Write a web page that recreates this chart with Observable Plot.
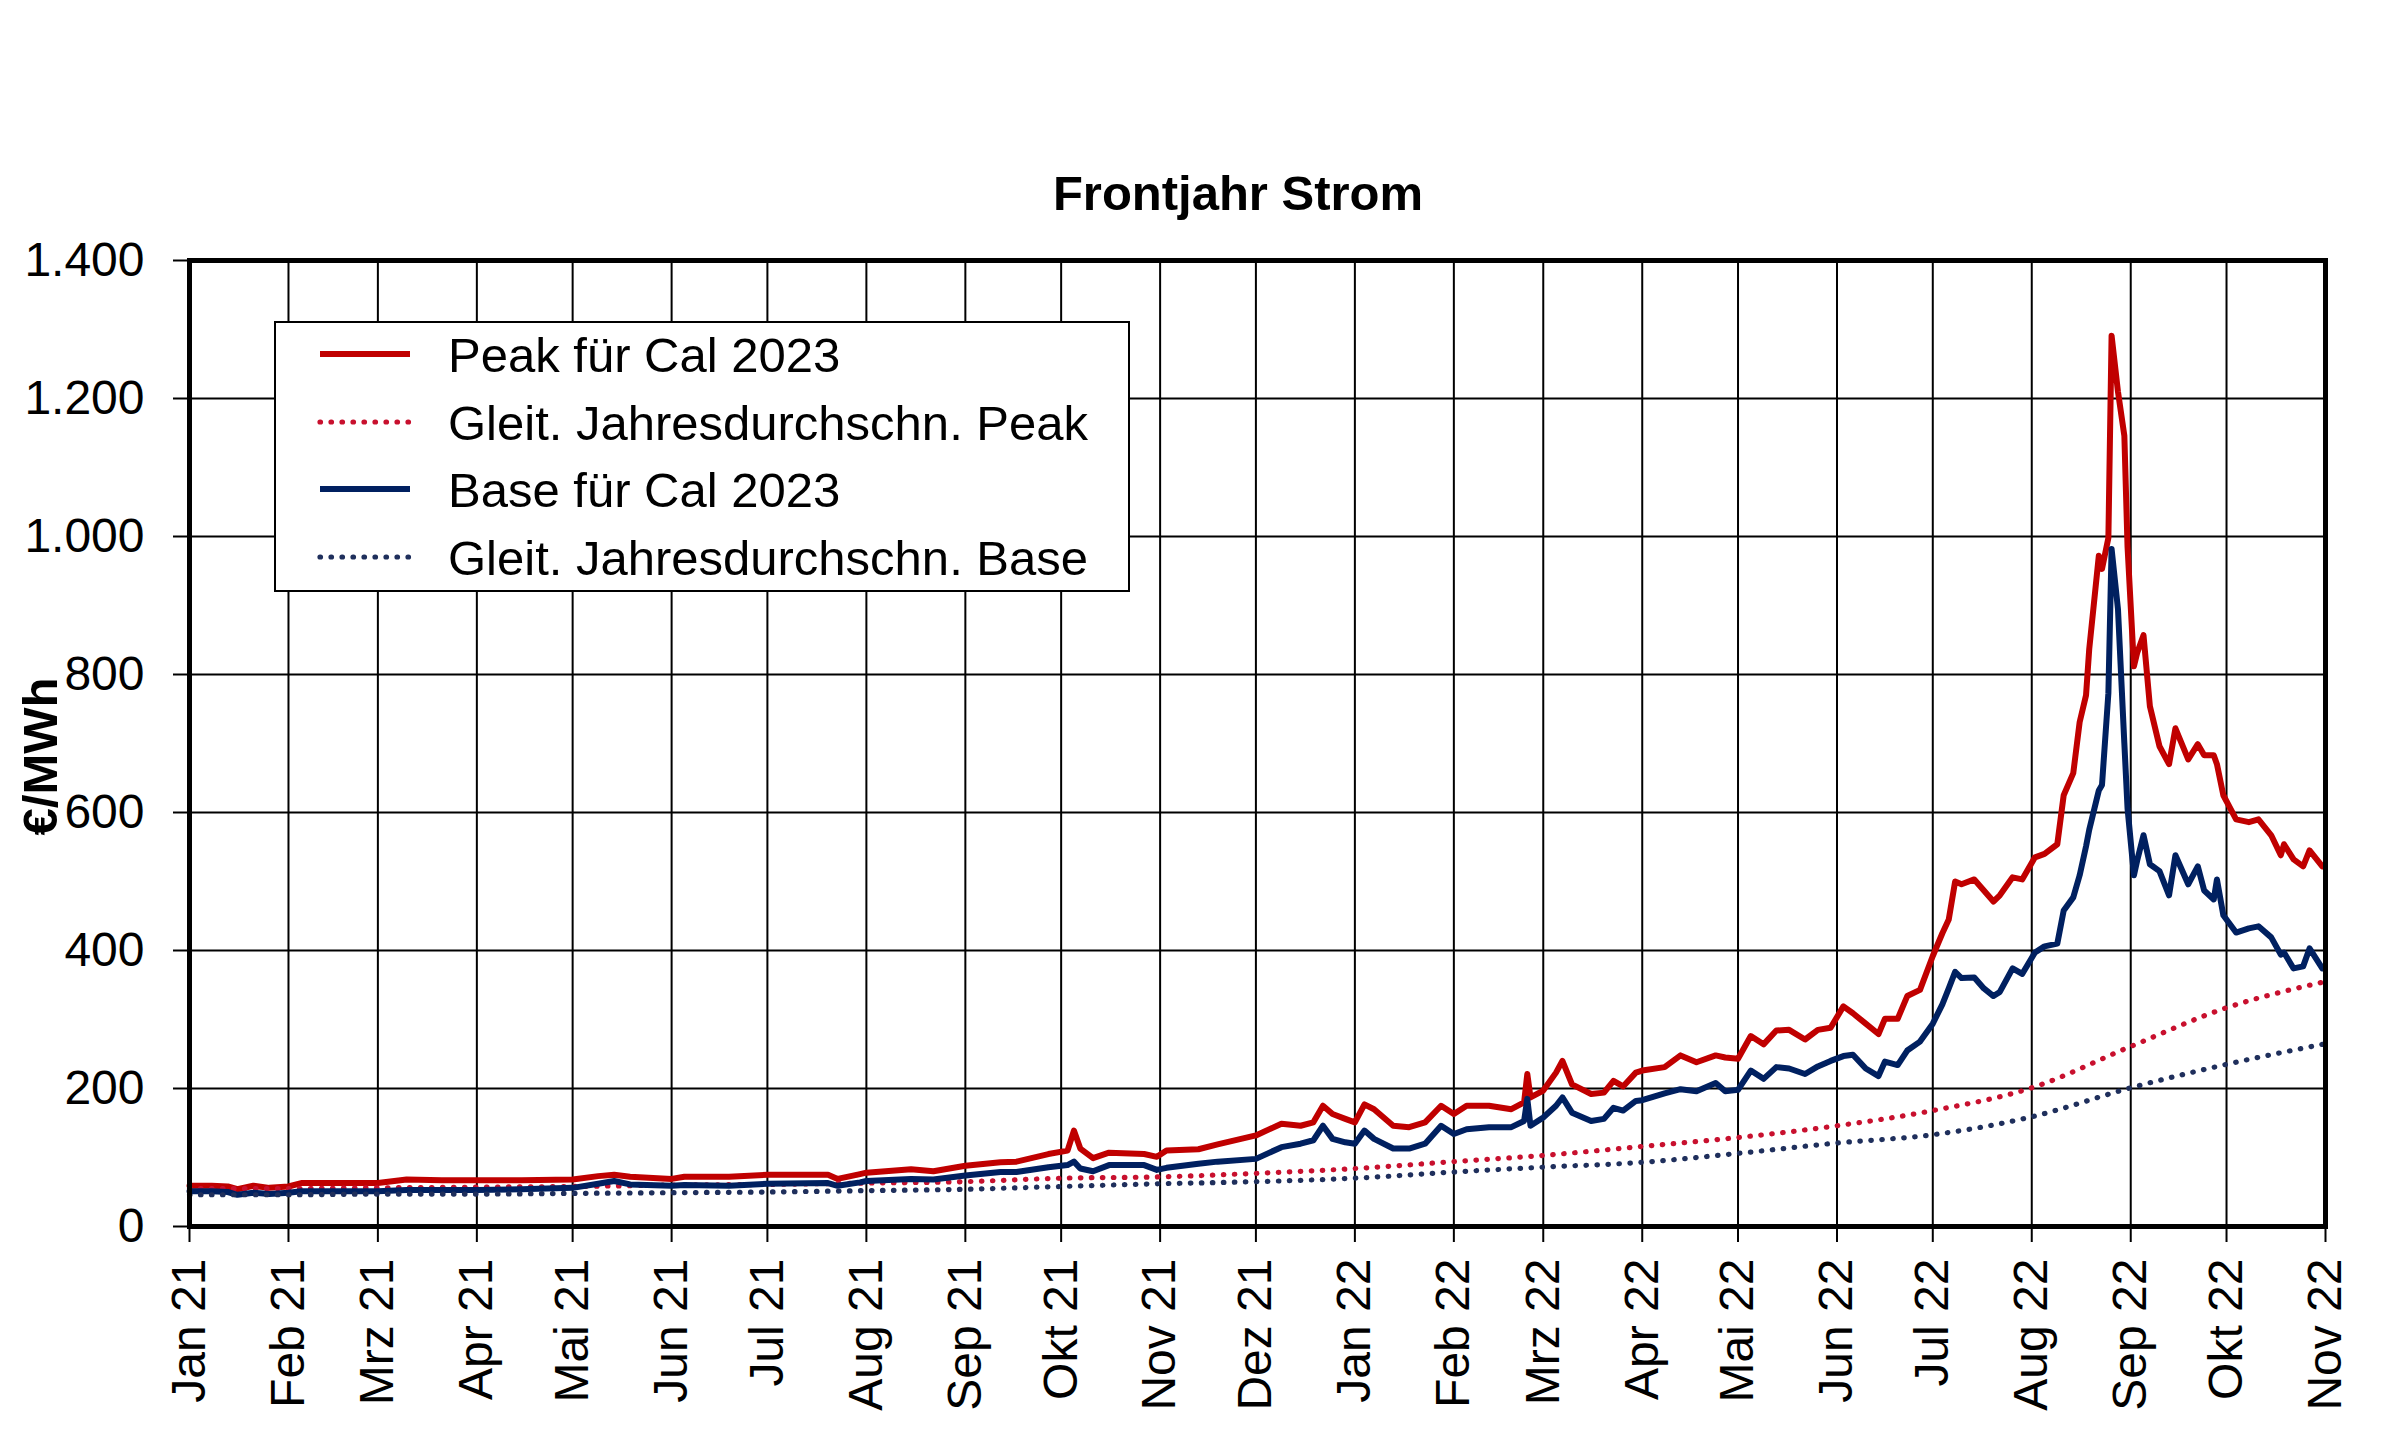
<!DOCTYPE html>
<html>
<head>
<meta charset="utf-8">
<script src="https://cdn.jsdelivr.net/npm/d3@7"></script>
<script src="https://cdn.jsdelivr.net/npm/@observablehq/plot@0.6"></script>
<style>
  html, body { margin: 0; padding: 0; background: #fff; }
  body { font-family: "Liberation Sans", Arial, sans-serif; }
  #wrap { position: relative; width: 2400px; height: 1444px; overflow: hidden; background: #fff; }
  #title { position: absolute; left: 1238px; top: 169px; transform: translateX(-50%); white-space: nowrap;
           font-size: 49px; line-height: 48px; font-weight: bold; color: #000; }
  #chart { position: absolute; left: 0; top: 225px; }
  #legend { position: absolute; left: 274px; top: 321px; width: 856px; height: 271px; box-sizing: border-box;
            border: 2px solid #000; background: #fff; }
  .row { position: absolute; left: 0; height: 48px; line-height: 48px; font-size: 49px; color: #000; white-space: nowrap; }
  .row svg { position: absolute; left: 41px; top: 0; }
  .row span { position: absolute; left: 172px; top: 0; }
</style>
</head>
<body>
<div id="wrap">
  <div id="title">Frontjahr Strom</div>
  <div id="chart"></div>
  <div id="legend"></div>
</div>
<script>
// ---- data ----
const dates = [
 "2021-01-01","2021-01-08","2021-01-13","2021-01-16","2021-01-21","2021-01-26","2021-02-01","2021-02-05","2021-02-16",
 "2021-03-01","2021-03-10","2021-03-21","2021-04-01","2021-04-15","2021-05-01","2021-05-09","2021-05-14","2021-05-19",
 "2021-06-01","2021-06-05","2021-06-19","2021-07-01","2021-07-20","2021-07-23","2021-07-30","2021-08-01","2021-08-15",
 "2021-08-22","2021-09-01","2021-09-12","2021-09-17","2021-09-27","2021-10-03","2021-10-05","2021-10-07","2021-10-11",
 "2021-10-16","2021-10-27","2021-10-31","2021-11-03","2021-11-13","2021-11-19","2021-12-01","2021-12-09","2021-12-15",
 "2021-12-19","2021-12-22","2021-12-25","2021-12-29","2022-01-01","2022-01-04","2022-01-07","2022-01-13","2022-01-18",
 "2022-01-23","2022-01-28","2022-02-01","2022-02-05","2022-02-12","2022-02-19","2022-02-23","2022-02-24","2022-02-25",
 "2022-03-01","2022-03-05","2022-03-07","2022-03-10","2022-03-16","2022-03-20","2022-03-23","2022-03-26","2022-03-30",
 "2022-04-01","2022-04-08","2022-04-13","2022-04-18","2022-04-24","2022-04-27","2022-05-01","2022-05-05","2022-05-09",
 "2022-05-13","2022-05-17","2022-05-22","2022-05-26","2022-05-30","2022-06-03","2022-06-06","2022-06-10","2022-06-14",
 "2022-06-16","2022-06-20","2022-06-23","2022-06-27","2022-07-01","2022-07-04","2022-07-06","2022-07-08","2022-07-10",
 "2022-07-14","2022-07-17","2022-07-20","2022-07-22","2022-07-26","2022-07-29","2022-08-02","2022-08-05","2022-08-09",
 "2022-08-11","2022-08-14","2022-08-16","2022-08-18","2022-08-19","2022-08-22","2022-08-23","2022-08-25","2022-08-26",
 "2022-08-28","2022-08-30","2022-08-31","2022-09-02","2022-09-03","2022-09-05","2022-09-07","2022-09-10","2022-09-13",
 "2022-09-15","2022-09-19","2022-09-22","2022-09-24","2022-09-27","2022-09-28","2022-09-30","2022-10-04","2022-10-08",
 "2022-10-11","2022-10-15","2022-10-18","2022-10-19","2022-10-22","2022-10-25","2022-10-27","2022-10-31"
];
const peak = [
 59,59,58,54,59,56,58,63,63,
 63,68,67,67,67,68,73,75,72,
 69,72,72,75,75,69,76,78,83,
 80,88,93,94,105,110,139,113,99,
 107,105,101,110,112,119,132,149,146,
 151,175,163,156,151,177,170,146,144,
 151,175,163,175,175,170,180,221,187,
 197,223,240,206,192,194,211,203,223,
 226,231,248,238,248,245,243,276,264,
 284,285,271,285,288,319,309,294,279,
 301,301,334,343,392,425,445,500,496,
 503,487,471,480,506,503,535,540,554,
 625,657,731,770,837,972,953,998,1291,
 1210,1146,985,812,831,857,754,696,670,
 722,677,699,683,683,670,625,590,586,
 590,567,538,554,532,522,545,522
];
const base = [
 51,51,50,46,49,47,49,51,51,
 51,53,53,53,54,56,62,66,61,
 59,60,59,62,63,59,64,66,69,
 68,74,79,79,86,89,94,84,80,
 89,89,82,85,91,94,98,115,120,
 125,146,127,122,120,139,127,113,113,
 120,146,134,141,144,144,153,185,146,
 158,175,187,165,153,156,172,168,182,
 183,193,199,196,208,196,198,226,214,
 231,229,221,232,240,247,249,229,218,
 239,234,255,268,294,322,345,369,360,
 361,345,334,340,374,366,397,406,410,
 458,477,509,551,575,632,640,773,982,
 895,700,606,509,530,567,525,515,480,
 538,496,522,487,474,503,451,426,432,
 435,419,394,397,374,377,403,374
];
const avgDates = [
 "2021-01-01","2021-02-01","2021-03-01","2021-04-01","2021-05-01","2021-06-01","2021-07-01","2021-08-01",
 "2021-09-01","2021-10-01","2021-11-01","2021-12-01","2022-01-01","2022-02-01","2022-03-01","2022-04-01",
 "2022-05-01","2022-06-01","2022-07-01","2022-08-01","2022-09-01","2022-10-01","2022-10-31"
];
const avgPeak = [55,55,56,57,58,60,61,63,65,70,72,77,84,94,103,116,129,146,168,201,261,317,354];
const avgBase = [46,46,47,47,48,49,50,52,54,58,62,65,70,79,86,93,106,121,133,159,201,235,264];

const monthNames = ["Jan","Feb","Mrz","Apr","Mai","Jun","Jul","Aug","Sep","Okt","Nov","Dez"];
const yTicks = [0,200,400,600,800,1000,1200,1400];
const seriesNames = ["Peak für Cal 2023","Gleit. Jahresdurchschn. Peak","Base für Cal 2023","Gleit. Jahresdurchschn. Base"];
const seriesColors = ["#C00000","#C8102E","#002060","#1F2F5C"];
const seriesDash = [null,"0.5,10.5",null,"0.5,10.5"];
const yLabel = "€/MWh";

// ---- build ----
const parse = d3.utcParse("%Y-%m-%d");
const main = dates.map((d,i) => ({date: parse(d), peak: peak[i], base: base[i]}));
const avg = avgDates.map((d,i) => ({date: parse(d), peak: avgPeak[i], base: avgBase[i]}));
const de = d3.formatLocale({decimal: ",", thousands: ".", grouping: [3], currency: ["", " €"]});
const fmt = de.format(",d");
const monthTicks = d3.utcMonth.range(parse("2021-01-01"), parse("2022-11-02"));
const monthFmt = d => monthNames[d.getUTCMonth()] + " " + String(d.getUTCFullYear()).slice(2);

const lw = 6;
const dw = 5.2;
const chart = Plot.plot({
  width: 2400, height: 1219,
  marginTop: 35, marginBottom: 218, marginLeft: 189, marginRight: 75,
  style: {fontFamily: "'Liberation Sans', Arial, sans-serif", fontSize: "48px", color: "#000", background: "#fff", overflow: "visible"},
  x: {type: "utc", domain: [parse("2021-01-01"), parse("2022-11-01")]},
  y: {domain: [0, 1400]},
  marks: [
    Plot.gridX(monthTicks, {stroke: "#000", strokeOpacity: 1, strokeWidth: 2}),
    Plot.gridY(yTicks, {stroke: "#000", strokeOpacity: 1, strokeWidth: 2}),
    Plot.axisX(monthTicks, {tickFormat: monthFmt, tickRotate: -90, tickSize: 16, tickPadding: 16, strokeWidth: 2, label: null, fontSize: 48}),
    Plot.axisY(yTicks, {tickFormat: fmt, tickSize: 16, tickPadding: 29, strokeWidth: 2, label: null, fontSize: 48}),
    Plot.lineY(main, {x: "date", y: "peak", stroke: seriesColors[0], strokeWidth: lw, strokeLinejoin: "round"}),
    Plot.lineY(avg, {x: "date", y: "peak", stroke: seriesColors[1], strokeWidth: dw, strokeDasharray: seriesDash[1], strokeLinecap: "round", curve: "monotone-x"}),
    Plot.lineY(main, {x: "date", y: "base", stroke: seriesColors[2], strokeWidth: lw, strokeLinejoin: "round"}),
    Plot.lineY(avg, {x: "date", y: "base", stroke: seriesColors[3], strokeWidth: dw, strokeDasharray: seriesDash[3], strokeLinecap: "round", curve: "monotone-x"}),
    Plot.frame({stroke: "#000", strokeWidth: 5}),
    Plot.text([yLabel], {frameAnchor: "left", textAnchor: "middle", rotate: -90, dx: -148, dy: 13, fontWeight: "bold", fontSize: 49, fill: "#000"})
  ]
});
document.getElementById("chart").appendChild(chart);

// ---- legend ----
const legend = document.getElementById("legend");
seriesNames.forEach((name, i) => {
  const row = document.createElement("div");
  row.className = "row";
  row.style.top = (8 + i * 67.7) + "px";
  const style = seriesDash[i]
    ? ` stroke-width="${dw}" stroke-dasharray="${seriesDash[i]}" stroke-linecap="round"`
    : ` stroke-width="${lw}"`;
  row.innerHTML = `<svg width="96" height="48"><line x1="3" x2="93" y1="23" y2="23" stroke="${seriesColors[i]}"${style}/></svg><span>${name}</span>`;
  legend.appendChild(row);
});
</script>
</body>
</html>
